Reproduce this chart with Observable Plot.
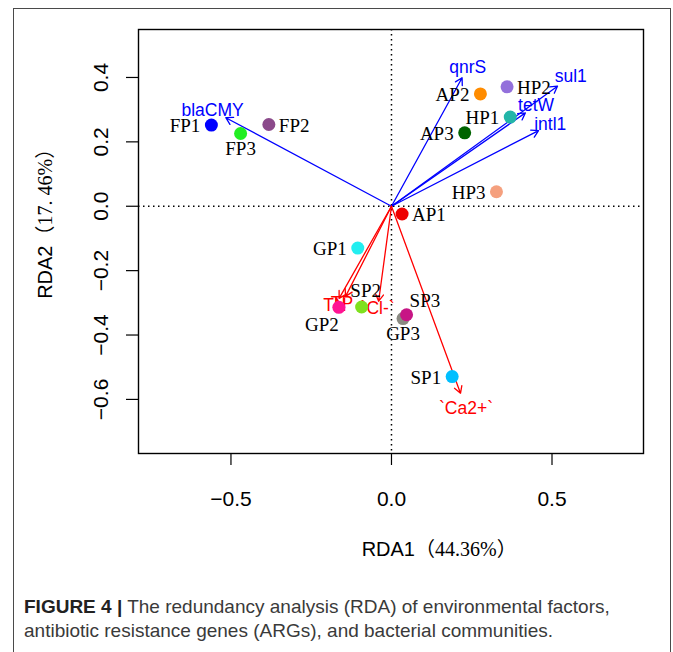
<!DOCTYPE html>
<html>
<head>
<meta charset="utf-8">
<script src="https://cdn.jsdelivr.net/npm/d3@7"></script>
<script src="https://cdn.jsdelivr.net/npm/@observablehq/plot@0.6"></script>
<style>
  html, body { margin: 0; padding: 0; background: #fff; }
  #fig { position: relative; width: 673px; height: 652px; overflow: hidden; }
  #chart { position: absolute; left: 0; top: 0; }
  #box { position: absolute; left: 13px; top: 8px; width: 658px; height: 720px;
         border: 1.6px solid #4a4a4a; box-sizing: border-box; pointer-events: none; }
  #caption { position: absolute; left: 24px; top: 595px; width: 640px;
             font-family: "Liberation Sans", Arial, sans-serif;
             font-size: 19px; line-height: 24px; color: #3a3a3a; }
  #caption b { color: #222; }
</style>
</head>
<body>
<div id="fig">
  <div id="chart"></div>
  <div id="box"></div>
  <div id="caption"><b>FIGURE 4 |</b> The redundancy analysis (RDA) of environmental factors,<br>antibiotic resistance genes (ARGs), and bacterial communities.</div>
</div>
<script>
// ---- data ----
const sites = ["FP1","FP2","FP3","AP1","AP2","AP3","HP1","HP2","HP3","GP1","GP2","GP3","SP1","SP2","SP3"];
const siteRDA1 = [-0.561,-0.382,-0.470,0.033,0.277,0.228,0.370,0.360,0.327,-0.105,-0.164,0.036,0.189,-0.093,0.047];
const siteRDA2 = [0.252,0.254,0.226,-0.024,0.349,0.228,0.277,0.371,0.045,-0.130,-0.314,-0.349,-0.529,-0.313,-0.337];
const siteColors = ["#0000FF","#8B4A8B","#22EE22","#EE0000","#FF8C00","#006400","#22B5A8","#9370DB","#F5A07E",
                    "#22EEF0","#FF1493","#8A8A82","#00BFFF","#7FE01F","#C71585"];
const siteLabelSide = ["left","right","below","right","left","left","left","right","left",
                       "left","below-left","below","left","above","above-right"];

const genes = ["blaCMY","qnrS","sul1","tetW","intl1"];
const geneRDA1 = [-0.516,0.220,0.517,0.417,0.458];
const geneRDA2 = [0.275,0.399,0.373,0.290,0.235];

const envs = ["TN","TP","`Cl-`","`Ca2+`"];
const envRDA1 = [-0.163,-0.143,-0.040,0.215];
const envRDA2 = [-0.286,-0.280,-0.295,-0.581];

const xTicks = [-0.5, 0, 0.5];
const yTicks = [-0.6, -0.4, -0.2, 0, 0.2, 0.4];
const xTitle = ["RDA1", "（44.36%）"];
const yTitle = ["RDA2", "（17. 46%）"];

// ---- chart ----
const fmt = d3.format(".1f");
const sans = "Liberation Sans, Arial, sans-serif";
const serif = "Liberation Serif, Times New Roman, Noto Serif CJK SC, Noto Sans CJK SC, serif";
const serifCJK = "Liberation Serif, Noto Sans CJK SC, serif";
const siteIdx = d3.range(sites.length);
const geneIdx = d3.range(genes.length);
const envIdx = d3.range(envs.length);
const labelMul = 1.08;

const sideCfg = {
  "left": {textAnchor: "end", dx: -11, dy: 1},
  "right": {textAnchor: "start", dx: 10, dy: 1},
  "below": {textAnchor: "middle", dx: 0, dy: 15},
  "below-left": {textAnchor: "middle", dx: -17, dy: 18},
  "above": {textAnchor: "middle", dx: 4, dy: -16},
  "above-right": {textAnchor: "start", dx: 3, dy: -14}
};
const siteLabelMarks = Object.entries(sideCfg).map(([side, cfg]) =>
  Plot.text(siteIdx.filter(i => siteLabelSide[i] === side), {
    x: i => siteRDA1[i], y: i => siteRDA2[i], text: i => sites[i],
    textAnchor: cfg.textAnchor, dx: cfg.dx, dy: cfg.dy,
    fontFamily: serif, fontSize: 19, fill: "black", lineAnchor: "middle"
  })
);

const chart = Plot.plot({
  width: 673, height: 580,
  marginLeft: 138, marginRight: 30, marginTop: 29, marginBottom: 127,
  style: {background: "none", fontFamily: sans, overflow: "visible"},
  x: {domain: [-0.788, 0.785]},
  y: {domain: [-0.768, 0.549]},
  color: {type: "identity"},
  marks: [
    Plot.ruleX([0], {stroke: "black", strokeWidth: 1.5, strokeDasharray: "1.5,3.5"}),
    Plot.ruleY([0], {stroke: "black", strokeWidth: 1.5, strokeDasharray: "1.5,3.5"}),
    Plot.frame({stroke: "black", strokeWidth: 1.4}),
    Plot.axisX({ticks: xTicks, tickSize: 12, tickPadding: 26, fontSize: 21, tickFormat: fmt, label: null, strokeWidth: 1.2}),
    Plot.axisY({ticks: yTicks, tickSize: 12, tickFormat: () => "", label: null, strokeWidth: 1.2}),
    Plot.text(yTicks, {y: d => d, text: d => fmt(d), frameAnchor: "left", dx: -37, rotate: -90,
      fontSize: 21, textAnchor: "middle", lineAnchor: "middle", fill: "black"}),
    Plot.text([xTitle[0]], {frameAnchor: "bottom", dx: 24, dy: 96, textAnchor: "end", lineAnchor: "middle",
      fontSize: 20, fontFamily: sans, fill: "black"}),
    Plot.text([xTitle[1]], {frameAnchor: "bottom", dx: 24, dy: 96, textAnchor: "start", lineAnchor: "middle",
      fontSize: 20, fontFamily: serifCJK, fill: "black"}),
    Plot.text([yTitle[0]], {frameAnchor: "left", dx: -93, dy: 4, rotate: -90, textAnchor: "end", lineAnchor: "middle",
      fontSize: 20, fontFamily: sans, fill: "black"}),
    Plot.text([yTitle[1]], {frameAnchor: "left", dx: -93, dy: 4, rotate: -90, textAnchor: "start", lineAnchor: "middle",
      fontSize: 20, fontFamily: serifCJK, fill: "black"}),
    // gene vectors (blue)
    Plot.arrow(geneIdx, {x1: () => 0, y1: () => 0, x2: i => geneRDA1[i], y2: i => geneRDA2[i],
      stroke: "#0000FF", strokeWidth: 1.3, headLength: 9, headAngle: 60}),
    Plot.text(geneIdx, {x: i => geneRDA1[i] * labelMul, y: i => geneRDA2[i] * labelMul, text: i => genes[i],
      fill: "#0000FF", fontSize: 17.5, fontFamily: sans, lineAnchor: "middle"}),
    // environmental vectors (red)
    Plot.arrow(envIdx, {x1: () => 0, y1: () => 0, x2: i => envRDA1[i], y2: i => envRDA2[i],
      stroke: "#FF0000", strokeWidth: 1.3, headLength: 9, headAngle: 60}),
    Plot.text(envIdx, {x: i => envRDA1[i] * labelMul, y: i => envRDA2[i] * labelMul, text: i => envs[i],
      fill: "#FF0000", fontSize: 17.5, fontFamily: sans, lineAnchor: "middle"}),
    // sites
    Plot.dot(siteIdx, {x: i => siteRDA1[i], y: i => siteRDA2[i], fill: i => siteColors[i], r: 6.5, stroke: "none"}),
    ...siteLabelMarks
  ]
});
document.getElementById("chart").appendChild(chart);
</script>
</body>
</html>
